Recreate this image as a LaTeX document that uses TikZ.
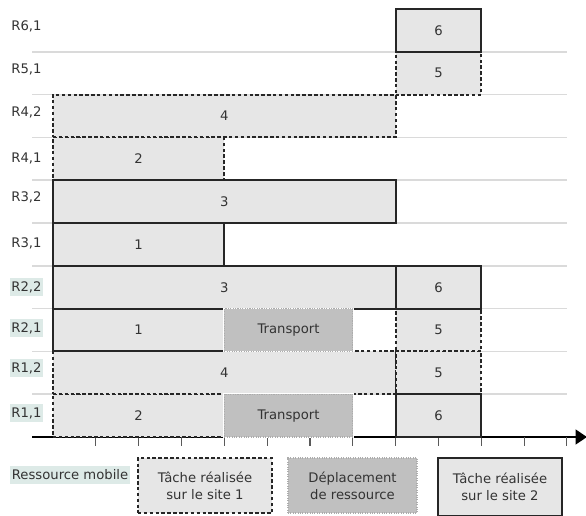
\documentclass[tikz,border=0pt]{standalone}
\usepackage{fontspec}
\setmainfont{DejaVu Sans}
\usetikzlibrary{arrows.meta}
\definecolor{taskfill}{HTML}{E6E6E6}
\definecolor{transfill}{HTML}{C0C0C0}
\definecolor{gridc}{HTML}{DADADA}
\definecolor{hl}{HTML}{DDEAE7}
\definecolor{txt}{HTML}{333333}
\newcommand\bx[7]{\node[#6, minimum width={(#4-#2)*0.75pt}, minimum height={(#5-#3)*0.75pt}] (#1) at ({(#2+#4)/2},{(#3+#5)/2}) {#7};}
\begin{document}
\begin{tikzpicture}[x=0.75pt,y=-0.75pt,
 every node/.style={font=\fontsize{9.9}{12.75}\selectfont, text=txt},
 base/.style={rectangle, inner sep=0pt, fill=taskfill},
 siteone/.style={base, draw=black!85, line width=1.4pt, dash pattern=on 2.6pt off 1.8pt},
 sitetwo/.style={base, draw=black!85, line width=1.4pt},
 transport/.style={rectangle, inner sep=0pt, fill=transfill, preaction={draw=white, solid, line width=1.6pt}, draw=gray!65, line width=0.8pt, densely dotted, align=center},
 legone/.style={siteone, align=center},
 legtwo/.style={sitetwo, align=center},
 rowlabel/.style={anchor=west, inner xsep=1.2pt, inner ysep=0pt, minimum height=13pt},
 hllabel/.style={rowlabel, fill=hl},
 gridline/.style={gridc, line width=1.1pt},
 tickmark/.style={draw=black!65, line width=0.8pt},
 axisline/.style={black, line width=1.5pt, -{Triangle[length=8.5pt,width=11pt]}}
]
\useasboundingbox (0,0) rectangle (586,515);
% grid lines
\foreach \k in {1,...,9} {
  \draw[gridline] (32,{437-42.8*\k}) -- (567,{437-42.8*\k});
}
% axis
\coordinate (axs) at (32,437);
\coordinate (axe) at (587,437);
\draw[axisline] (axs) -- (axe);
\foreach \k in {1,...,12} {
  \draw[tickmark] ({53+42.83*\k},437) -- ({53+42.83*\k},446);
}
% row labels
\node[rowlabel] (l61) at (9.5,26) {R6,1};
\node[rowlabel] (l51) at (9.5,69) {R5,1};
\node[rowlabel] (l42) at (9.5,112) {R4,2};
\node[rowlabel] (l41) at (9.5,158) {R4,1};
\node[rowlabel] (l32) at (9.5,197.5) {R3,2};
\node[rowlabel] (l31) at (9.5,243) {R3,1};
\node[hllabel] (l22) at (9.5,287) {R2,2};
\node[hllabel] (l21) at (9.5,328) {R2,1};
\node[hllabel] (l12) at (9.5,368) {R1,2};
\node[hllabel] (l11) at (9.5,413) {R1,1};
% site 1 tasks (dashed)
\bx{r11a}{53}{394.2}{224.3}{437}{siteone}{2}
\bx{r12a}{53}{351.4}{395.6}{394.2}{siteone}{4}
\bx{r12b}{395.6}{351.4}{481.3}{394.2}{siteone}{5}
\bx{r21b}{395.6}{308.6}{481.3}{351.4}{siteone}{5}
\bx{r41a}{53}{137.4}{224.3}{180.2}{siteone}{2}
\bx{r42a}{53}{94.6}{395.6}{137.4}{siteone}{4}
\bx{r51a}{395.6}{51.8}{481.3}{94.6}{siteone}{5}
% site 2 tasks (solid)
\bx{r11b}{395.6}{394.2}{481.3}{437}{sitetwo}{6}
\bx{r21a}{53}{308.6}{224.3}{351.4}{sitetwo}{1}
\bx{r22a}{53}{265.8}{395.6}{308.6}{sitetwo}{3}
\bx{r22b}{395.6}{265.8}{481.3}{308.6}{sitetwo}{6}
\bx{r31a}{53}{223}{224.3}{265.8}{sitetwo}{1}
\bx{r32a}{53}{180.2}{395.6}{223}{sitetwo}{3}
\bx{r61a}{395.6}{9}{481.3}{51.8}{sitetwo}{6}
% transports
\bx{t11}{224.3}{394.2}{352.8}{437}{transport}{Transport}
\bx{t21}{224.3}{308.6}{352.8}{351.4}{transport}{Transport}
% legend
\node[hllabel] (legl) at (10,475) {Ressource mobile};
\bx{leg1}{138}{458}{272}{513}{legone}{Tâche réalisée\\sur le site 1}
\bx{leg2}{288}{458}{417}{513}{transport}{Déplacement\\de ressource}
\bx{leg3}{438}{458}{562}{516}{legtwo}{Tâche réalisée\\sur le site 2}
\end{tikzpicture}
\end{document}
